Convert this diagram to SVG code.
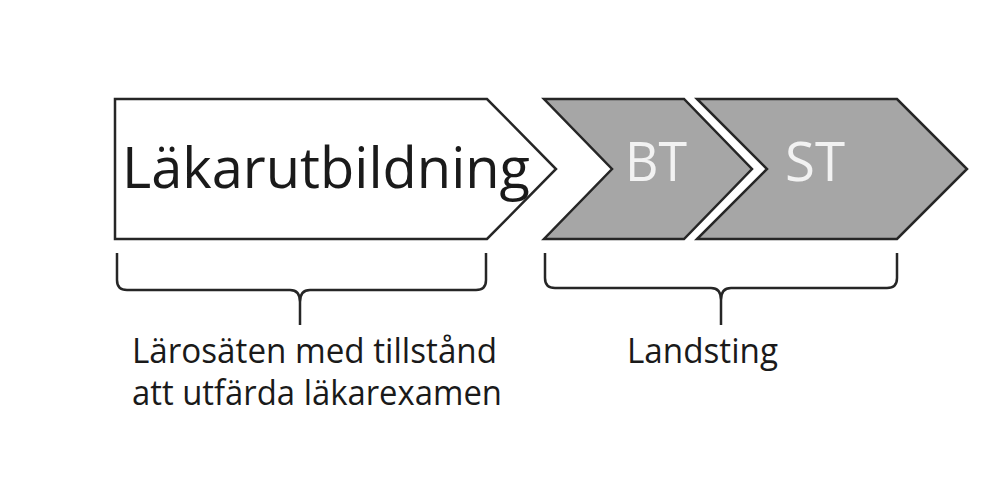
<svg xmlns="http://www.w3.org/2000/svg" width="1000" height="486" viewBox="0 0 1000 486">
<style>
.shape{stroke:#262626;stroke-width:2.5;stroke-linejoin:miter}
.grey{fill:#a6a6a6}
.white{fill:#ffffff}
.t{font-family:"Open Sans","Liberation Sans",sans-serif}
.brace{fill:none;stroke:#262626;stroke-width:2.5}
</style>
<rect width="1000" height="486" fill="#ffffff"/>
<g id="lakarutbildning">
<path class="shape white" d="M115,99 L487,99 L556,169 L487,239 L115,239 Z"/>
<text class="t" x="122" y="188" font-size="56" fill="#1a1a1a" textLength="408" lengthAdjust="spacingAndGlyphs">Läkarutbildning</text>
</g>
<g id="bt">
<path class="shape grey" d="M544,99 L684,99 L752,169 L684,239 L544,239 L612,169 Z"/>
<text class="t" x="625" y="181" font-size="54" fill="#f2f2f2" textLength="62" lengthAdjust="spacingAndGlyphs">BT</text>
</g>
<g id="st">
<path class="shape grey" d="M697,99 L897,99 L967,169 L897,239 L697,239 L767,169 Z"/>
<text class="t" x="785" y="181" font-size="54" fill="#f2f2f2" textLength="60" lengthAdjust="spacingAndGlyphs">ST</text>
</g>
<g id="connectors">
<path class="brace" d="M117,253 L117,280 Q117,290 127,290 L290,290 Q300,290 300,302 L300,325 M300,302 Q300,290 310,290 L476,290 Q486,290 486,280 L486,253"/>
<path class="brace" d="M545,253 L545,278 Q545,288 555,288 L711,288 Q721,288 721,300 L721,325 M721,300 Q721,288 731,288 L887,288 Q897,288 897,278 L897,253"/>
</g>
<g id="label-larosaten">
<text class="t" x="132" y="363" font-size="34" fill="#1a1a1a" textLength="365" lengthAdjust="spacingAndGlyphs">Lärosäten med tillstånd</text>
<text class="t" x="132" y="405" font-size="34" fill="#1a1a1a" textLength="370" lengthAdjust="spacingAndGlyphs">att utfärda läkarexamen</text>
</g>
<g id="label-landsting">
<text class="t" x="627" y="363" font-size="34" fill="#1a1a1a" textLength="151" lengthAdjust="spacingAndGlyphs">Landsting</text>
</g>
</svg>
